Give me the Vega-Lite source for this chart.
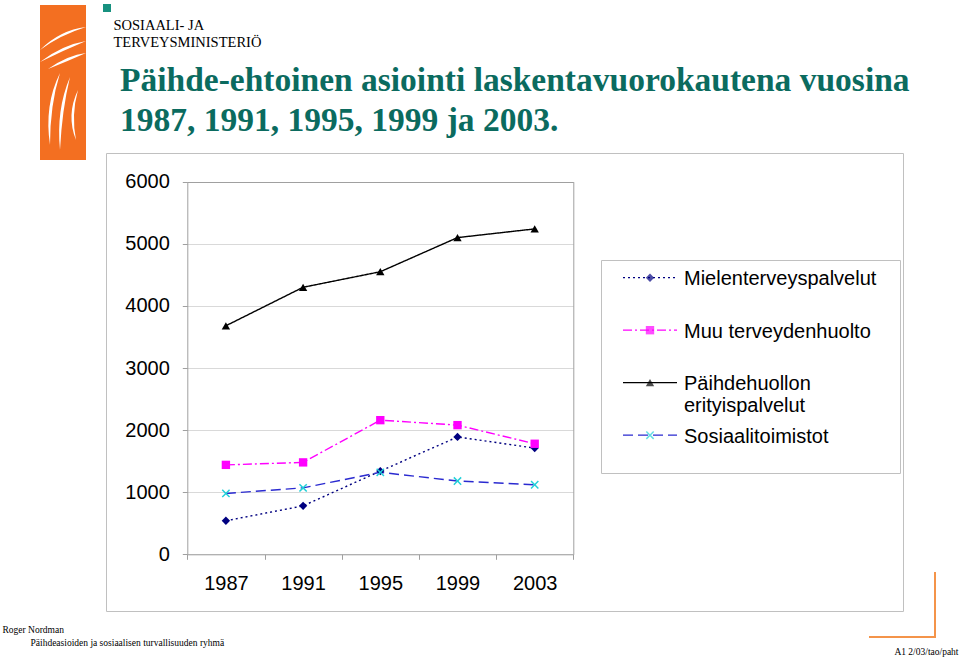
{
  "$schema": "https://vega.github.io/schema/vega-lite/v6.json",
  "width": 797,
  "height": 458,
  "autosize": "none",
  "padding": {"left": 106, "top": 153, "right": 57, "bottom": 46},
  "background": "white",
  "config": {"view": {"stroke": "#c0c0c0", "strokeWidth": 1}, "font": "Liberation Sans"},
  "title": {
    "text": ["Päihde-ehtoinen asiointi laskentavuorokautena vuosina", "1987, 1991, 1995, 1999 ja 2003."],
    "anchor": "start",
    "frame": "group",
    "dx": 14,
    "offset": -134,
    "font": "Liberation Serif",
    "fontSize": 33.5,
    "fontWeight": "bold",
    "color": "#0b6b5f",
    "lineHeight": 40
  },
  "data": {
    "values": [
      {"series": "Mielenterveyspalvelut", "year": "1987", "value": 540},
      {"series": "Mielenterveyspalvelut", "year": "1991", "value": 780},
      {"series": "Mielenterveyspalvelut", "year": "1995", "value": 1340},
      {"series": "Mielenterveyspalvelut", "year": "1999", "value": 1890},
      {"series": "Mielenterveyspalvelut", "year": "2003", "value": 1710},
      {"series": "Muu terveydenhuolto", "year": "1987", "value": 1440},
      {"series": "Muu terveydenhuolto", "year": "1991", "value": 1480},
      {"series": "Muu terveydenhuolto", "year": "1995", "value": 2160},
      {"series": "Muu terveydenhuolto", "year": "1999", "value": 2080},
      {"series": "Muu terveydenhuolto", "year": "2003", "value": 1780},
      {"series": "Päihdehuollon erityispalvelut", "year": "1987", "value": 3680},
      {"series": "Päihdehuollon erityispalvelut", "year": "1991", "value": 4300},
      {"series": "Päihdehuollon erityispalvelut", "year": "1995", "value": 4550},
      {"series": "Päihdehuollon erityispalvelut", "year": "1999", "value": 5100},
      {"series": "Päihdehuollon erityispalvelut", "year": "2003", "value": 5240},
      {"series": "Sosiaalitoimistot", "year": "1987", "value": 980},
      {"series": "Sosiaalitoimistot", "year": "1991", "value": 1070},
      {"series": "Sosiaalitoimistot", "year": "1995", "value": 1320},
      {"series": "Sosiaalitoimistot", "year": "1999", "value": 1180},
      {"series": "Sosiaalitoimistot", "year": "2003", "value": 1120}
    ]
  },
  "resolve": {"axis": {"x": "independent", "y": "independent"}},
  "layer": [
    {
      "mark": {"type": "line", "strokeWidth": 1.4},
      "encoding": {
        "x": {
          "field": "year",
          "type": "ordinal",
          "scale": {"type": "band", "range": [81.3, 467.3], "paddingInner": 0, "paddingOuter": 0},
          "axis": {
            "orient": "bottom",
            "offset": -56.7,
            "domain": true,
            "domainColor": "#a0a0a0",
            "ticks": true,
            "tickColor": "#a0a0a0",
            "tickSize": 5,
            "tickBand": "extent",
            "grid": false,
            "labelAngle": 0,
            "labelFont": "Liberation Sans",
            "labelFontSize": 20,
            "labelColor": "#000000",
            "labelPadding": 14.5,
            "title": "Roger Nordman",
            "titleX": -104,
            "titleY": 77.7,
            "titleAlign": "left",
            "titleBaseline": "alphabetic",
            "titleFont": "Liberation Serif",
            "titleFontSize": 9.5,
            "titleFontWeight": "normal",
            "titleColor": "#000000"
          }
        },
        "y": {
          "field": "value",
          "type": "quantitative",
          "scale": {"domain": [0, 6000], "range": [401.3, 28.7], "nice": false},
          "axis": {
            "orient": "left",
            "offset": -81.3,
            "values": [0, 1000, 2000, 3000, 4000, 5000, 6000],
            "format": "d",
            "domain": true,
            "domainColor": "#a0a0a0",
            "ticks": true,
            "tickColor": "#a0a0a0",
            "tickSize": 5,
            "grid": true,
            "gridColor": {"condition": {"test": "datum.value === 6000", "value": "#a0a0a0"}, "value": "#d9d9d9"},
            "labelFont": "Liberation Sans",
            "labelFontSize": 20,
            "labelColor": "#000000",
            "labelPadding": 13,
            "title": "Päihdeasioiden ja sosiaalisen turvallisuuden ryhmä",
            "titleAngle": 0,
            "titleX": -157.3,
            "titleY": 492,
            "titleAlign": "left",
            "titleBaseline": "alphabetic",
            "titleFont": "Liberation Serif",
            "titleFontSize": 9.5,
            "titleFontWeight": "normal",
            "titleColor": "#000000"
          }
        },
        "stroke": {
          "field": "series",
          "type": "nominal",
          "scale": {
            "domain": ["Mielenterveyspalvelut", "Muu terveydenhuolto", "Päihdehuollon erityispalvelut", "Sosiaalitoimistot"],
            "range": ["#000080", "#ff00ff", "#000000", "#2a2ad0"]
          },
          "legend": {
            "orient": "none", "legendX": 495, "legendY": 107, "title": null,
            "padding": 4, "strokeColor": "#c0c0c0", "fillColor": "#ffffff",
            "symbolType": "M-5.4,0.74H5.4M48.5,0.74", "symbolSize": 100, "symbolStrokeWidth": 1.3, "symbolOffset": 35,
            "labelFont": "Liberation Sans", "labelFontSize": 20, "labelColor": "#000000", "labelLimit": 0,
            "labelBaseline": "top", "labelOffset": 24, "rowPadding": 5.5,
            "labelExpr": "datum.label == 'Päihdehuollon erityispalvelut' ? ['Päihdehuollon', 'erityispalvelut'] : [datum.label, '']",
            "encoding": {"labels": {"dy": {"value": -5}}}
          }
        },
        "strokeDash": {
          "field": "series",
          "type": "nominal",
          "scale": {
            "domain": ["Mielenterveyspalvelut", "Muu terveydenhuolto", "Päihdehuollon erityispalvelut", "Sosiaalitoimistot"],
            "range": [[2, 3], [9, 3, 2, 3], [1, 0], [10, 5]]
          },
          "legend": {
            "orient": "none", "legendX": 495, "legendY": 107, "title": null,
            "padding": 4, "strokeColor": "#c0c0c0", "fillColor": "#ffffff",
            "symbolType": "M-5.4,0.74H5.4M48.5,0.74", "symbolSize": 100, "symbolStrokeWidth": 1.3, "symbolOffset": 35,
            "labelFont": "Liberation Sans", "labelFontSize": 20, "labelColor": "#000000", "labelLimit": 0,
            "labelBaseline": "top", "labelOffset": 24, "rowPadding": 5.5,
            "labelExpr": "datum.label == 'Päihdehuollon erityispalvelut' ? ['Päihdehuollon', 'erityispalvelut'] : [datum.label, '']",
            "encoding": {"labels": {"dy": {"value": -5}}}
          }
        },
        "strokeWidth": {
          "datum": "corner",
          "type": "ordinal",
          "scale": {"range": [1.4, 1.4]},
          "legend": {
            "orient": "none", "legendX": 763, "legendY": 419, "title": null,
            "padding": 0, "fillColor": null, "strokeColor": "#f4944a",
            "symbolType": "M-1,-1M0.244,0.224", "symbolSize": 10000, "symbolOffset": 0,
            "labelExpr": "''", "labelFontSize": 1, "labelOffset": -80,
            "encoding": {"legend": {"strokeDash": {"value": [0, 66, 131, 65]}, "strokeWidth": {"value": 2}}}
          }
        }
      }
    },
    {
      "mark": {"type": "point", "filled": true, "strokeWidth": 0},
      "encoding": {
        "x": {
          "field": "year",
          "type": "ordinal",
          "axis": {
            "orient": "top",
            "domain": false,
            "ticks": false,
            "labels": false,
            "grid": false,
            "title": ["SOSIAALI- JA", "TERVEYSMINISTERIÖ"],
            "titleX": 7,
            "titleY": -123.7,
            "titleAlign": "left",
            "titleBaseline": "alphabetic",
            "titleFont": "Liberation Serif",
            "titleFontSize": 14.5,
            "titleFontWeight": "normal",
            "titleColor": "#000000",
            "titleLineHeight": 17.4
          }
        },
        "y": {
          "field": "value",
          "type": "quantitative",
          "axis": {
            "orient": "right",
            "offset": -329.7,
            "domain": true,
            "domainColor": "#a0a0a0",
            "ticks": false,
            "labels": false,
            "grid": false,
            "title": "A1 2/03/tao/paht",
            "titleAngle": 0,
            "titleX": 384.7,
            "titleY": 501,
            "titleAlign": "right",
            "titleBaseline": "alphabetic",
            "titleFont": "Liberation Serif",
            "titleFontSize": 9.5,
            "titleFontWeight": "normal",
            "titleColor": "#000000"
          }
        },
        "color": {
          "field": "series",
          "type": "nominal",
          "scale": {"range": ["#000080", "#ff00ff", "#000000", "#22d0d8"]},
          "legend": {
            "orient": "none", "legendX": 530, "legendY": 110.7, "title": null, "padding": 4,
            "symbolSize": 70, "symbolOffset": 0, "symbolStrokeWidth": 0,
            "labelFont": "Liberation Sans", "labelFontSize": 20, "labelLimit": 0, "labelBaseline": "top",
            "labelOffset": 0, "rowPadding": 0.5,
            "labelExpr": "['', '']"
          }
        },
        "shape": {
          "field": "series",
          "type": "nominal",
          "scale": {"range": ["diamond", "square", "triangle-up", "M-1,-0.75L-0.75,-1L0,-0.25L0.75,-1L1,-0.75L0.25,0L1,0.75L0.75,1L0,0.25L-0.75,1L-1,0.75L-0.25,0Z"]},
          "legend": {
            "orient": "none", "legendX": 530, "legendY": 110.7, "title": null, "padding": 4,
            "symbolSize": 70, "symbolOffset": 0, "symbolStrokeWidth": 0,
            "labelFont": "Liberation Sans", "labelFontSize": 20, "labelLimit": 0, "labelBaseline": "top",
            "labelOffset": 0, "rowPadding": 0.5,
            "labelExpr": "['', '']"
          }
        },
        "opacity": {
          "datum": "logo",
          "type": "ordinal",
          "scale": {"range": [1, 1]},
          "legend": {
            "orient": "none", "legendX": -66, "legendY": -148, "title": null,
            "padding": 0, "fillColor": "#f36f21", "strokeColor": null,
            "symbolType": "M-0.46,-1M0.46,2.1M-0.46,-0.1Q-0.06,-0.5,0.46,-0.56Q-0.06,-0.4,-0.46,-0.1ZM-0.46,0.14Q-0.02,-0.2,0.46,-0.28Q-0.02,-0.08,-0.46,0.14ZM-0.3,0.28Q0.1,0,0.46,-0.04Q0.1,0.12,-0.3,0.28ZM-0.06,0.36Q-0.38,1,-0.26,1.8Q-0.26,1,-0.06,0.36ZM0.14,0.44Q-0.14,1.1,-0.06,1.9Q-0.02,1.1,0.14,0.44ZM0.3,0.7Q0.06,1.2,0.26,1.7Q0.16,1.2,0.3,0.7Z",
            "symbolSize": 10000, "symbolFillColor": "#ffffff", "symbolStrokeWidth": 0, "symbolOffset": -27,
            "labelExpr": "''", "labelFontSize": 1, "labelOffset": -80
          }
        },
        "size": {
          "datum": "mark",
          "type": "ordinal",
          "scale": {"range": [70, 70]},
          "legend": {
            "orient": "none", "legendX": -3, "legendY": -149, "title": null,
            "padding": 0, "fillColor": "#17917f", "strokeColor": null,
            "symbolType": "M-1,-1M0.598,0.598", "symbolStrokeWidth": 0, "symbolOffset": 0,
            "labelExpr": "''", "labelFontSize": 1, "labelOffset": -5
          }
        }
      }
    }
  ]
}
